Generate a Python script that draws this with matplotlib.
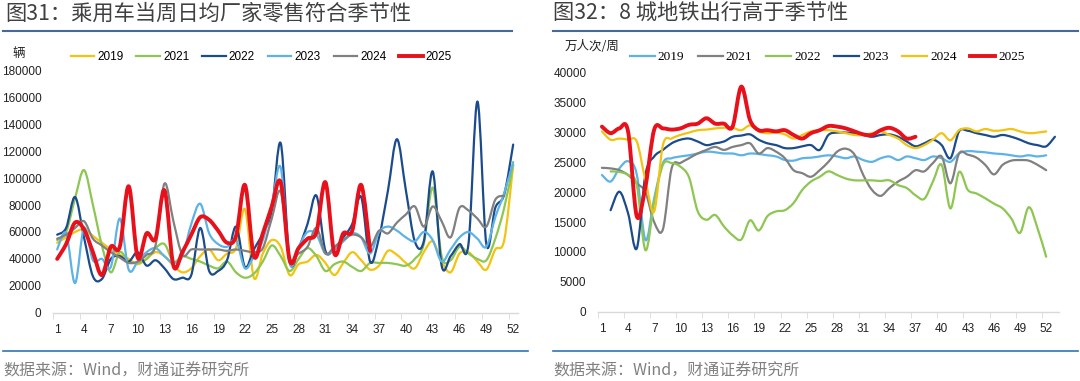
import numpy as np
import matplotlib
matplotlib.use("Agg")
import matplotlib.pyplot as plt
from matplotlib.path import Path
from matplotlib.patches import PathPatch
from matplotlib.lines import Line2D

plt.rcParams['font.family'] = ['Liberation Sans', 'Noto Sans CJK SC']

# ---------------- left chart: weekly retail of passenger cars (辆) ----------------
car_weeks = list(range(1, 53))
car_2019 = [52000, 56000, 60000, 62000, 57000, 52000, 47000, 43000, 40000, 36000,
            40000, 45000, 42000, 35000, 30000, 33000, 42000, 47000, 39000, 44000,
            48000, 77000, 26000, 44000, 54000, 49000, 28000, 36000, 38000, 43000,
            37000, 28000, 37000, 45000, 39000, 32000, 35000, 46000, 43000, 37000,
            33000, 45000, 53000, 38000, 30000, 44000, 45000, 38000, 32000, 47000,
            54000, 110000]
car_2021 = [54000, 60000, 85000, 106000, 80000, 50000, 30000, 45000, 38000, 37000,
            40000, 48000, 51000, 38000, 42000, 40000, 38000, 35000, 33000, 38000,
            30000, 26000, 29000, 38000, 50000, 42000, 31000, 40000, 48000, 42000,
            31000, 36000, 38000, 34000, 31000, 37000, 37000, 37000, 36000, 35000,
            40000, 51000, 93000, 42000, 39000, 49000, 44000, 40000, 39000, 55000,
            78000, 110000]
car_2022 = [58000, 63000, 86000, 56000, 27000, 25000, 40000, 42000, 38000, 45000,
            35000, 39000, 33000, 25000, 26000, 28000, 63000, 31000, 31000, 39000,
            64000, 34000, 47000, 59000, 76000, 126000, 39000, 48000, 66000, 87000,
            46000, 48000, 56000, 66000, 86000, 38000, 56000, 91000, 129000, 91000,
            53000, 53000, 105000, 35000, 42000, 51000, 51000, 157000, 51000, 78000,
            88000, 125000]
car_2023 = [47000, 59000, 22000, 63000, 39000, 40000, 34000, 70000, 32000, 38000,
            45000, 48000, 42000, 37000, 42000, 66000, 81000, 59000, 51000, 49000,
            54000, 33000, 42000, 54000, 80000, 108000, 37000, 49000, 60000, 58000,
            44000, 47000, 53000, 59000, 56000, 44000, 60000, 64000, 61000, 56000,
            53000, 60000, 54000, 38000, 47000, 56000, 60000, 55000, 49000, 71000,
            89000, 112000]
car_2024 = [55000, 58000, 63000, 68000, 55000, 50000, 45000, 41000, 37000, 38000,
            43000, 50000, 96000, 68000, 43000, 47000, 47000, 47000, 47000, 46000,
            47000, 46000, 45000, 48000, 70000, 90000, 41000, 44000, 49000, 63000,
            44000, 49000, 54000, 58000, 56000, 49000, 61000, 59000, 67000, 73000,
            79000, 64000, 79000, 68000, 56000, 78000, 76000, 70000, 64000, 84000,
            87000]
car_2025 = [40000, 51000, 67000, 62000, 45000, 28000, 49000, 49000, 94000, 41000,
            59000, 55000, 91000, 35000, 45000, 58000, 71000, 69000, 61000, 52000,
            57000, 95000, 42000, 59000, 79000, 97000, 39000, 48000, 55000, 60000,
            97000, 44000, 59000, 61000, 95000, 46000]

# ---------------- right chart: metro passengers in 8 cities (万人次/周) ----------------
metro_weeks = list(range(1, 54))
metro_2019 = [22900, 21800, 24000, 25200, 23000, 12000, 19000, 24900, 25700, 26000,
              26200, 26500, 26800, 26700, 26500, 26500, 26200, 26500, 26400, 26200,
              26000, 25400, 25300, 25700, 25800, 26000, 26200, 26000, 25700, 26000,
              25400, 25100, 25700, 26000, 25400, 26000, 25700, 25400, 26000, 25700,
              25100, 26500, 26900, 26800, 26700, 26500, 26400, 26200, 26000, 26200,
              26000, 26200]
metro_2021 = [24100, 24000, 23700, 22900, 21500, 20000, 15000, 13800, 24000, 24900,
              25700, 26500, 27100, 27600, 27100, 27600, 27900, 28200, 26500, 27400,
              26800, 25700, 23700, 23200, 22600, 23700, 25100, 26800, 27300, 26300,
              22900, 20400, 19400, 20700, 21800, 22600, 23700, 23500, 24900, 26000,
              21500, 26500, 26300, 25800, 24600, 23000, 24600, 25300, 25400, 25300,
              24600, 23700]
metro_2022 = [23500, 23400, 22900, 21200, 10300, 18400, 24600, 24900, 24300, 22500,
              16800, 15400, 16200, 14300, 12800, 12100, 15300, 13600, 16000, 16800,
              17000, 18200, 20400, 21800, 22600, 23500, 22900, 22300, 22000, 22000,
              22000, 21900, 22000, 21200, 20700, 19500, 18900, 21800, 24600, 17300,
              23400, 20400, 19800, 19000, 18100, 17300, 15600, 13200, 17500, 14000,
              9200]
metro_2023 = [17000, 20100, 16500, 10600, 23000, 26000, 27100, 28200, 28800, 29000,
              28500, 27900, 28200, 28500, 29300, 29500, 29700, 28800, 28200, 27900,
              27400, 27400, 27700, 27900, 27100, 29600, 30000, 30000, 29900, 29600,
              29300, 29600, 29700, 29300, 28500, 27700, 28200, 28800, 27900, 25700,
              30200, 30300, 29900, 29600, 29300, 29600, 29300, 28800, 28200, 27900,
              27700, 29300]
metro_2024 = [30200, 28800, 29000, 28800, 28500, 22000, 16800, 27900, 29000, 29600,
              30000, 30400, 30500, 30700, 30800, 30800, 30400, 31200, 30200, 29900,
              30000, 29700, 29000, 29600, 30200, 30400, 30400, 30200, 29900, 29600,
              29600, 29900, 30200, 29600, 29000, 27900, 27400, 27900, 28800, 29900,
              28700, 30400, 30700, 30200, 30600, 30300, 30400, 30600, 30200, 29900,
              30000, 30200]
metro_2025 = [31000, 29900, 30700, 30200, 16000, 21000, 30500, 30700, 30500, 30700,
              31300, 31500, 32400, 31500, 31500, 31000, 37700, 32100, 30400, 30400,
              30200, 30400, 29600, 29000, 29900, 30400, 31100, 31000, 30700, 30200,
              29700, 29600, 30400, 30800, 30200, 29000, 29300]

YELLOW = '#F3C311'
GREEN = '#8DC651'
NAVY = '#1A4B8C'
SKY = '#5DB3E6'
GREY = '#808080'
RED = '#E8101A'


def smooth(xs, ys):
    # excel-like smoothed line: catmull-rom segments as bezier curves
    pts = np.column_stack([xs, ys]).astype(float)
    n = len(pts)
    verts = [pts[0]]
    codes = [Path.MOVETO]
    for i in range(n - 1):
        p0 = pts[i - 1] if i > 0 else pts[i]
        p1 = pts[i]
        p2 = pts[i + 1]
        p3 = pts[i + 2] if i + 2 < n else pts[i + 1]
        verts += [p1 + (p2 - p0) / 6, p2 - (p3 - p1) / 6, p2]
        codes += [Path.CURVE4] * 3
    return Path(verts, codes)


def draw(ax, weeks, vals, color, lw, label, start=1):
    xs = weeks[start - 1:start - 1 + len(vals)]
    ax.add_patch(PathPatch(smooth(xs, vals), fill=False, edgecolor=color, lw=lw,
                           joinstyle='round', capstyle='round'))
    ax.plot([], [], color=color, lw=lw, label=label)


def style(ax, nweeks, ymax, ystep):
    ax.set_xlim(0.5, nweeks + 0.5)
    ax.set_ylim(0, ymax)
    for s in ['top', 'right', 'left']:
        ax.spines[s].set_visible(False)
    ax.spines['bottom'].set_color('#D9D9D9')
    ax.spines['bottom'].set_linewidth(1.0)
    ax.set_xticks(range(1, 53, 3))
    ax.set_xticks(np.arange(0.5, nweeks, 3), minor=True)
    ax.tick_params(axis='x', which='major', length=0, pad=8, labelsize=8.5, colors='#222222')
    ax.tick_params(axis='x', which='minor', length=4, color='#D9D9D9')
    ax.set_yticks(np.arange(0, ymax + 1, ystep))
    ax.tick_params(axis='y', length=0, pad=8, labelsize=8.5, colors='#222222')


fig = plt.figure(figsize=(10.8, 3.81), dpi=100)

ax1 = fig.add_axes([0.0488, 0.1793, 0.4305, 0.6354])
draw(ax1, car_weeks, car_2019, YELLOW, 1.6, '2019')
draw(ax1, car_weeks, car_2021, GREEN, 1.6, '2021')
draw(ax1, car_weeks, car_2022, NAVY, 1.6, '2022')
draw(ax1, car_weeks, car_2023, SKY, 1.6, '2023')
draw(ax1, car_weeks, car_2024, GREY, 1.6, '2024')
draw(ax1, car_weeks, car_2025, RED, 2.8, '2025')
style(ax1, 52, 180000, 20000)
ax1.legend(ncol=6, frameon=False, loc='center', bbox_to_anchor=(0.242, 0.850),
           bbox_transform=fig.transFigure, fontsize=8.5, handlelength=2.0,
           columnspacing=1.1, handletextpad=0.25)

ax2 = fig.add_axes([0.5533, 0.1819, 0.4275, 0.6268])
draw(ax2, metro_weeks, metro_2019, SKY, 1.6, '2019')
draw(ax2, metro_weeks, metro_2021, GREY, 1.6, '2021')
draw(ax2, metro_weeks, metro_2022, GREEN, 1.6, '2022', start=2)
draw(ax2, metro_weeks, metro_2023, NAVY, 1.6, '2023', start=2)
draw(ax2, metro_weeks, metro_2024, YELLOW, 1.6, '2024')
draw(ax2, metro_weeks, metro_2025, RED, 2.8, '2025')
style(ax2, 53, 40000, 5000)
ax2.legend(ncol=6, frameon=False, loc='center', bbox_to_anchor=(0.766, 0.850),
           bbox_transform=fig.transFigure, prop={'family': 'Liberation Serif', 'size': 9.5},
           handlelength=1.9, columnspacing=1.05, handletextpad=0.2)

cjk = ['Noto Sans CJK SC', 'DejaVu Sans']
fig.text(5 / 1080, 1 - 14 / 381, '图31：乘用车当周日均厂家零售符合季节性', family=cjk,
         fontsize=15.3, color='#404040', va='center', ha='left')
fig.text(553 / 1080, 1 - 14 / 381, '图32：8 城地铁出行高于季节性', family=cjk,
         fontsize=15.3, color='#404040', va='center', ha='left')
fig.text(12 / 1080, 1 - 53 / 381, '辆', family=cjk, fontsize=9, color='#222222',
         va='center', ha='left')
fig.text(565 / 1080, 1 - 47 / 381, '万人次/周', family=cjk, fontsize=9, color='#222222',
         va='center', ha='left')
fig.text(3 / 1080, 1 - 371 / 381, '数据来源：Wind，财通证券研究所', family=cjk,
         fontsize=11.5, color='#808080', va='center', ha='left')
fig.text(553 / 1080, 1 - 371 / 381, '数据来源：Wind，财通证券研究所', family=cjk,
         fontsize=11.5, color='#808080', va='center', ha='left')

# header and footer rules
for x0, x1 in [(3, 512), (553, 1078)]:
    fig.add_artist(Line2D([x0 / 1080, x1 / 1080], [1 - 31 / 381] * 2, color='#45699A', lw=1.5))
for x0, x1 in [(3, 528), (553, 1078)]:
    fig.add_artist(Line2D([x0 / 1080, x1 / 1080], [1 - 351 / 381] * 2, color='#2E75B6', lw=1.2))

fig.savefig('out.png', dpi=100)
